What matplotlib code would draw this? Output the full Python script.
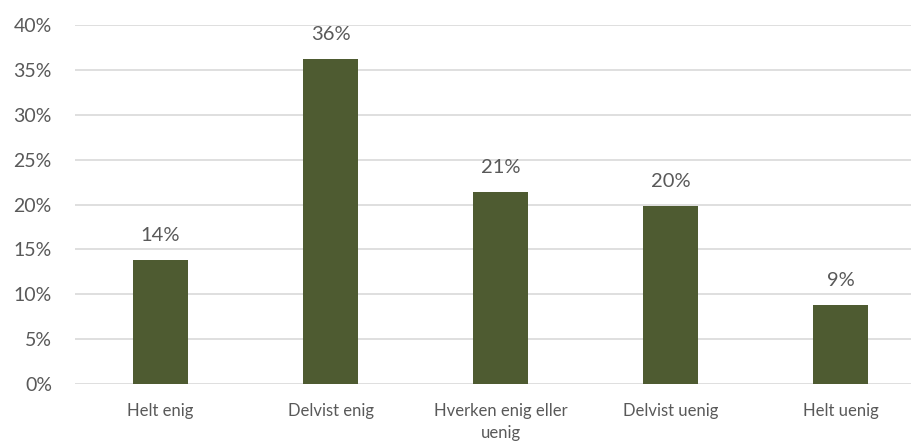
import matplotlib
matplotlib.use("Agg")
import matplotlib.pyplot as plt
from matplotlib.ticker import FuncFormatter

categories = ["Helt enig", "Delvist enig", "Hverken enig eller\nuenig", "Delvist uenig", "Helt uenig"]
values = [13.8, 36.2, 21.4, 19.8, 8.8]
labels = ["14%", "36%", "21%", "20%", "9%"]
yticks = [0, 5, 10, 15, 20, 25, 30, 35, 40]

BAR = "#4E5B31"
TEXT = "#595959"
GRID = "#D9D9D9"

plt.rcParams["font.family"] = ["Lato", "DejaVu Sans"]

fig = plt.figure(figsize=(9.12, 4.41), dpi=100)
ax = fig.add_axes([75.5 / 912, 1 - 384 / 441, 850 / 912, 359 / 441])
x = range(len(categories))
ax.bar(x, values, width=0.32, color=BAR, zorder=3)
for xi, v, lab in zip(x, values, labels):
    ax.text(xi, v + 1.8, lab, ha="center", va="bottom", fontsize=14.5, color=TEXT)

ax.set_xlim(-0.5, len(categories) - 0.5)
ax.set_ylim(0, 40)
ax.set_yticks(yticks)
ax.yaxis.set_major_formatter(FuncFormatter(lambda v, _: f"{v:.0f}%"))
ax.set_xticks(list(x))
ax.set_xticklabels(categories, fontsize=12)
ax.tick_params(axis="y", labelsize=14, colors=TEXT, length=0, pad=17)
ax.tick_params(axis="x", colors=TEXT, length=0, pad=14)
for lbl in ax.get_xticklabels():
    lbl.set_linespacing(1.45)
ax.grid(True, axis="y", color=GRID, linewidth=1.2, zorder=0)
for s in ax.spines.values():
    s.set_visible(False)

fig.savefig("out.png", dpi=100)
